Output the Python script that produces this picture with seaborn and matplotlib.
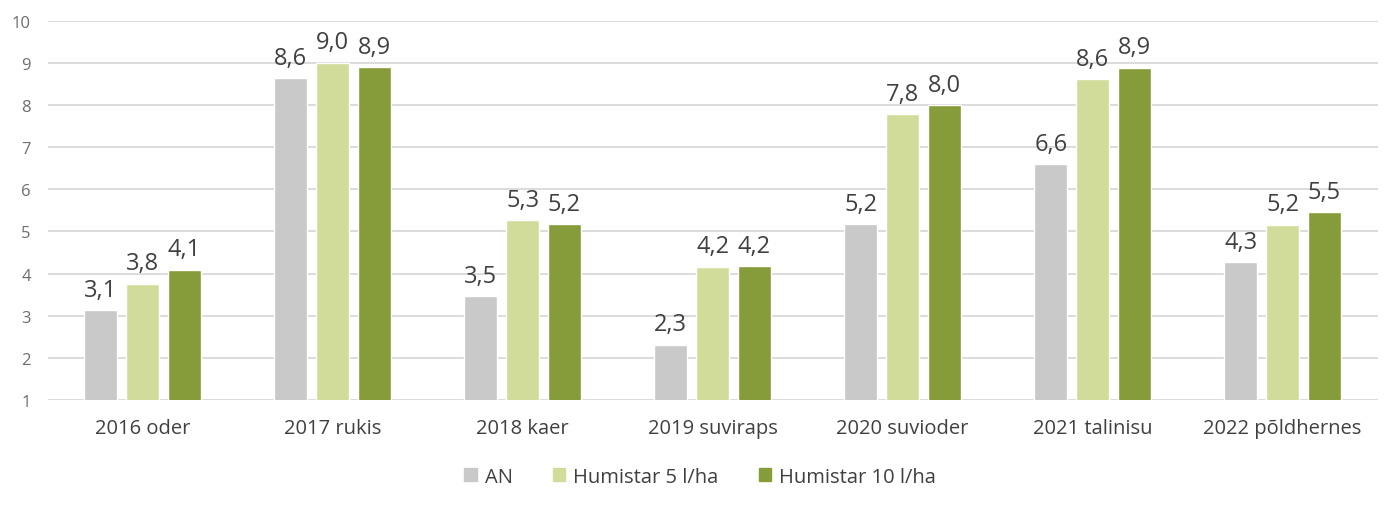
import matplotlib
matplotlib.use("Agg")
import matplotlib.pyplot as plt
import pandas as pd
import seaborn as sns

kultuurid = ["2016 oder", "2017 rukis", "2018 kaer", "2019 suviraps",
             "2020 suvioder", "2021 talinisu", "2022 põldhernes"]
variandid = ["AN", "Humistar 5 l/ha", "Humistar 10 l/ha"]

# values
an = [3.13, 8.64, 3.47, 2.31, 5.18, 6.60, 4.27]
humistar5 = [3.76, 9.01, 5.26, 4.16, 7.78, 8.61, 5.16]
humistar10 = [4.09, 8.90, 5.17, 4.18, 8.00, 8.89, 5.46]

varvid = ["#C9C9C9", "#D1DC9B", "#869B39"]

df = pd.DataFrame({
    "kultuur": kultuurid * 3,
    "variant": [variandid[0]] * 7 + [variandid[1]] * 7 + [variandid[2]] * 7,
    "saak": an + humistar5 + humistar10,
})

sns.set_style("white")
plt.rcParams["font.family"] = ["Open Sans", "DejaVu Sans"]

fig, ax = plt.subplots(figsize=(14, 5.1), dpi=100)
fig.subplots_adjust(left=0.034, right=0.984, top=0.957, bottom=0.214)

sns.barplot(data=df, x="kultuur", y="saak", hue="variant", palette=varvid,
            saturation=1, width=0.66, gap=0.21, ax=ax, zorder=3)

for cont in ax.containers:
    labels = [f"{v:.1f}".replace(".", ",") for v in cont.datavalues]
    ax.bar_label(cont, labels=labels, padding=6, fontsize=17, color="#404040")

ax.set_ylim(1, 10)
ax.set_xlim(-0.5, 6.5)
ax.set_yticks(range(1, 11))
ax.yaxis.grid(True, color="#D9D9D9", lw=1.3, zorder=0)
ax.set_axisbelow(True)
for s in ax.spines.values():
    s.set_visible(False)
ax.tick_params(axis="y", length=0, pad=12, labelsize=12, labelcolor="#6E6E6E")
ax.tick_params(axis="x", length=0, pad=13, labelsize=14.5, labelcolor="#404040")
ax.set_xlabel("")
ax.set_ylabel("")

ax.get_legend().remove()
handles = [plt.Rectangle((0, 0), 1, 1, color=c) for c in varvid]
fig.legend(handles, variandid, loc="center", bbox_to_anchor=(0.5, 0.063),
           ncol=3, frameon=False, fontsize=14.5, handlelength=0.6,
           handleheight=0.6, columnspacing=2.0, handletextpad=0.4,
           labelcolor="#404040")

fig.savefig("out.png", dpi=100)
